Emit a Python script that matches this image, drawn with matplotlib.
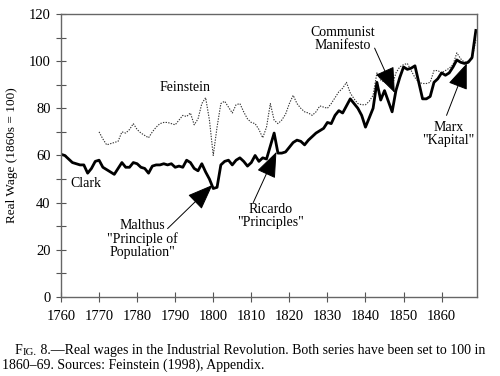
import matplotlib
matplotlib.use("Agg")
import matplotlib.pyplot as plt
import numpy as np

plt.rcParams["font.family"] = ["Liberation Serif", "DejaVu Serif"]

# Clark series, annual 1760-1869
clark_years = np.arange(1760, 1870)
clark = [
    60.5, 60, 58.5, 57, 56.5, 56, 56, 52.5, 54.5, 57.5,
    58, 55, 54, 53, 52, 54.5, 57, 55, 55, 57,
    56.5, 55, 54.5, 52.5, 55.5, 56, 56, 56.5, 56, 56.5,
    55, 55.5, 55, 58, 57, 54.5, 53.5, 56.5, 53, 50,
    46, 46.5, 56, 57.5, 58, 56, 58, 59, 57.5, 55.5,
    57, 60, 57.5, 59, 58.5, 64, 69.5, 61, 61, 61.5,
    63.5, 65.5, 66.5, 66, 64.5, 66.5, 68, 69.5, 70.5, 71.5,
    74, 73.5, 77, 79, 78, 81, 84, 82, 80, 77,
    72, 76, 80, 91, 83.5, 87.5, 83, 78.5, 87.5, 93,
    97.5, 96.5, 97, 98, 91, 84, 84, 85, 91, 92.5,
    95, 94, 95, 97.5, 100.5, 99.5, 99, 99.5, 101.5, 113,
]

# Feinstein series, annual 1770-1869
feinstein_years = np.arange(1770, 1870)
feinstein = [
    70, 67, 64.5, 65, 65.5, 66, 70, 69.5, 71, 73.5,
    71, 69.5, 68.5, 67.5, 70, 72, 73.5, 74, 74, 73.5,
    73, 75, 77, 76.5, 78, 73, 75.5, 82, 84.5, 75,
    60, 72, 82, 83, 80.5, 78, 81.5, 82, 78.5, 75.5,
    74, 73.5, 71, 67.5, 72, 82, 75, 73.5, 75, 77.5,
    82, 85.5, 82, 80, 78.5, 78, 77, 78.5, 81, 80.5,
    80, 82, 84.5, 87, 88.5, 91, 86.5, 84, 82, 81.5,
    81.5, 83, 85.5, 95, 92, 91, 90.5, 89.5, 95, 97.5,
    98.5, 99, 96, 93, 91, 90.5, 90.5, 91, 96, 96,
    95, 96, 97, 98.5, 103.5, 101, 99.5, 100, 101, 109,
]

x_ticks = list(range(1760, 1861, 10))

fig = plt.figure(figsize=(5.0, 3.76), dpi=100)
ax = fig.add_axes([0.122, 0.21, 0.832, 0.753])

ax.plot(feinstein_years, feinstein, color="#333333", lw=0.8, ls=(0, (1.2, 1.2)))
ax.plot(clark_years, clark, color="black", lw=2.0)

ax.set_xlim(1760, 1869.3)
ax.set_ylim(0, 120)
ax.set_xticks(x_ticks)
ax.set_yticks(range(0, 121, 20))
ax.set_yticks(range(10, 120, 20), minor=True)
ax.tick_params(axis="both", which="both", direction="inout", length=7,
               width=0.8, color="#555555", labelsize=10.5, pad=4)
ax.tick_params(axis="x", pad=6)
ax.tick_params(top=False, right=False)
for s in ax.spines.values():
    s.set_color("#666666")
    s.set_linewidth(1.0)

ax.set_ylabel("Real Wage (1860s = 100)", fontsize=9.5, labelpad=8)

ax.text(1792.5, 89, "Feinstein", fontsize=10, ha="center", va="center")
ax.text(1766.5, 48, "Clark", fontsize=10, ha="center", va="center")

# event labels and their arrows
arrow = dict(arrowstyle="-|>,head_length=0.9,head_width=0.35",
             mutation_scale=18, lw=0.7, color="black", shrinkA=0, shrinkB=0)
ax.text(1781.5, 24.5, "Malthus\n\"Principle of\nPopulation\"", fontsize=10,
        ha="center", va="center", multialignment="center", linespacing=1.0)
ax.annotate("", xy=(1799.8, 47.5), xytext=(1788, 29), arrowprops=arrow)
ax.text(1815, 34.5, "Ricardo\n\"Principles\"", fontsize=10,
        ha="center", va="center", multialignment="center", linespacing=1.0)
ax.annotate("", xy=(1816.6, 61.5), xytext=(1810.5, 40), arrowprops=arrow)
ax.text(1834, 109.5, "Communist\nManifesto", fontsize=10,
        ha="center", va="center", linespacing=1.0)
ax.annotate("", xy=(1847.7, 86.5), xytext=(1842.4, 105.5), arrowprops=arrow)
ax.text(1861.8, 69, "Marx\n\"Kapital\"", fontsize=10,
        ha="center", va="center", linespacing=1.0)
ax.annotate("", xy=(1866.6, 99), xytext=(1861.3, 77), arrowprops=arrow)

# caption with small-caps "Fig."
t1 = fig.text(0.03, 0.058, "F", fontsize=10, va="baseline")
t2 = fig.add_artist(plt.Annotation("IG.", xy=(1, 0), xycoords=t1,
                                   fontsize=7.8, va="bottom"))
fig.add_artist(plt.Annotation(" 8.\u2014Real wages in the Industrial Revolution. "
                              "Both series have been set to 100 in",
                              xy=(1, 0), xycoords=t2, fontsize=10, va="bottom"))
fig.text(0.004, 0.018, "1860\u201369. Sources: Feinstein (1998), Appendix.",
         fontsize=10, va="baseline")

fig.savefig("out.png", dpi=100)
